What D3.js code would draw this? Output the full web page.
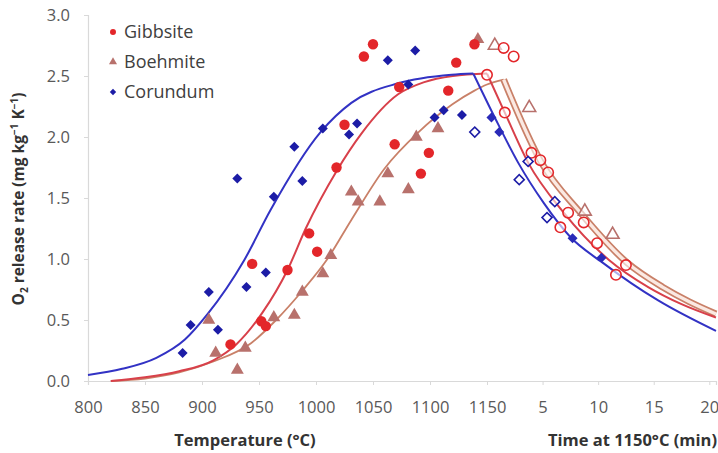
<!DOCTYPE html>
<html>
<head>
<meta charset="utf-8">
<script src="https://cdn.jsdelivr.net/npm/d3@7"></script>
<style>
  html, body { margin: 0; padding: 0; background: #fff; }
  svg { display: block; }
  text { font-family: "Open Sans", Lato, sans-serif; }
</style>
</head>
<body>
<div id="chart"></div>
<script>
// ---------------- data ----------------
const tempTicks = [800, 850, 900, 950, 1000, 1050, 1100, 1150];   // °C
const timeTicks = [5, 10, 15, 20];                                  // min at 1150 °C
const yTicks = [0.0, 0.5, 1.0, 1.5, 2.0, 2.5, 3.0];

const seriesNames = ["Gibbsite", "Boehmite", "Corundum"];

// measured points during heating: [temperature °C, O2 release rate]
const gibbsiteTemp = [[925,0.30],[944,0.96],[952,0.49],[956,0.45],[975,0.91],[994,1.21],[1001,1.06],[1018,1.75],[1025,2.10],[1042,2.66],[1050,2.76],[1069,1.94],[1073,2.41],[1092,1.70],[1099,1.87],[1116,2.38],[1123,2.61],[1139,2.76]];
const boehmiteTemp = [[906,0.50],[912,0.23],[931,0.09],[938,0.27],[963,0.52],[981,0.54],[988,0.73],[1006,0.88],[1013,1.03],[1031,1.55],[1037,1.47],[1056,1.47],[1063,1.70],[1081,1.57],[1088,2.00],[1107,2.07],[1142,2.80]];
const corundumTemp = [[883,0.23],[890,0.46],[906,0.73],[914,0.42],[931,1.66],[939,0.77],[956,0.89],[963,1.51],[981,1.92],[988,1.64],[1006,2.07],[1029,2.02],[1036,2.11],[1063,2.63],[1081,2.43],[1087,2.71],[1104,2.16],[1112,2.22],[1128,2.18]];

// measured points during the isothermal hold: [time min, O2 release rate]
const gibbsiteTime = [[0.0,2.51],[1.5,2.73],[2.4,2.66],[1.6,2.20],[4.0,1.87],[4.8,1.81],[5.5,1.71],[6.6,1.26],[7.3,1.38],[8.7,1.30],[9.9,1.13],[11.6,0.87],[12.5,0.95]];
const boehmiteTime = [[0.7,2.75],[3.8,2.24],[8.8,1.39],[11.3,1.20]];
const corundumTimeOpen = [[-1.1,2.04],[2.9,1.65],[3.7,1.80],[5.4,1.34],[6.1,1.47]];
const corundumTimeFilled = [[0.4,2.16],[1.1,2.04],[7.7,1.17],[10.3,1.01]];

// model fits: heating part [T, rate] and hold part [t, rate]
const gibbsiteFitTemp = [[820,0.00],[850,0.03],[880,0.08],[910,0.17],[930,0.30],[953,0.56],[975,0.91],[991,1.25],[1018,1.72],[1040,2.03],[1072,2.35],[1095,2.45],[1120,2.50],[1150,2.52]];
const gibbsiteFitTime = [[1.6,2.20],[3.7,1.79],[6.9,1.38],[11.0,0.99],[14.5,0.77],[17.5,0.63],[20.6,0.52]];
const boehmiteFitTemp = [[820,0.00],[850,0.02],[880,0.07],[910,0.16],[943,0.31],[965,0.50],[988,0.74],[1010,1.00],[1031,1.32],[1060,1.74],[1090,2.04],[1120,2.27],[1139,2.38],[1150,2.43]];
const boehmiteFitTime = [[1.5,2.47],[4.9,1.79],[8.4,1.38],[12.6,0.97],[15.8,0.77],[18.2,0.65],[20.6,0.55]];
const corundumFitTemp = [[800,0.05],[830,0.10],[860,0.19],[885,0.34],[905,0.55],[937,0.99],[960,1.40],[1004,2.04],[1031,2.28],[1072,2.44],[1119,2.51],[1138,2.52]];
const corundumFitTime = [[0.7,2.16],[2.8,1.79],[5.1,1.46],[7.5,1.18],[10.4,0.97],[13.0,0.80],[15.4,0.66],[20.6,0.41]];

// ---------------- chart ----------------
const W = 718, H = 453;
const HOLD_T = 1150, MIN_TO_UNITS = 9.75; // axis units per minute of hold
const toAxis = t => HOLD_T + MIN_TO_UNITS * t;

const svg = d3.select("#chart").append("svg").attr("width", W).attr("height", H);

const x = d3.scaleLinear().domain([800, 1150]).range([88, 487]);
x.domain([800, x.invert(716)]).range([88, 716]);
const y = d3.scaleLinear().domain([0, 3]).range([381, 15]);

const colors = {
  gib: "#e3262a", gibLine: "#d8404a",
  boe: "#b8716c", boeLine: "#c98068",
  cor: "#1c1ca6", corLine: "#3232c4"
};

// axes
const axisColor = "#d9d9d9";
const xTickVals = tempTicks.concat(timeTicks.map(toAxis));
const timeLabel = new Map(timeTicks.map(t => [toAxis(t), String(t)]));
const xAxis = d3.axisBottom(x).tickValues(xTickVals).tickSize(4).tickPadding(16)
  .tickFormat(v => timeLabel.has(v) ? timeLabel.get(v) : String(v));
const gx = svg.append("g").attr("transform", `translate(0,${y(0)})`).call(xAxis);
gx.select(".domain").attr("stroke", axisColor).attr("stroke-width", 1.2);
gx.selectAll(".tick line").attr("stroke", axisColor);
gx.selectAll(".tick text").attr("fill", "#595959").style("font-size", "16.5px").style("font-family", "Open Sans");

const yAxis = d3.axisLeft(y).tickValues(yTicks).tickSize(4).tickPadding(14).tickFormat(d3.format(".1f"));
const gy = svg.append("g").attr("transform", `translate(${x(800)},0)`).call(yAxis);
gy.select(".domain").attr("stroke", axisColor).attr("stroke-width", 1.2);
gy.selectAll(".tick line").attr("stroke", axisColor);
gy.selectAll(".tick text").attr("fill", "#595959").style("font-size", "16.5px").style("font-family", "Open Sans");

// axis titles
svg.append("text").attr("x", 245).attr("y", 446).attr("text-anchor", "middle")
  .style("font-size", "16.5px").style("font-weight", "bold").attr("fill", "#333").text("Temperature (°C)");
svg.append("text").attr("x", 717).attr("y", 446).attr("text-anchor", "end")
  .style("font-size", "16.5px").style("font-weight", "bold").attr("fill", "#333").text("Time at 1150°C (min)");
const yt = svg.append("text").attr("transform", "translate(24,199) rotate(-90)").attr("text-anchor", "middle")
  .style("font-size", "15.5px").style("font-weight", "bold").attr("fill", "#333");
yt.append("tspan").text("O");
yt.append("tspan").attr("dy", 4).style("font-size", "10px").text("2");
yt.append("tspan").attr("dy", -4).text(" release rate (mg kg");
yt.append("tspan").attr("dy", -6).style("font-size", "10px").text("−1");
yt.append("tspan").attr("dy", 6).text(" K");
yt.append("tspan").attr("dy", -6).style("font-size", "10px").text("−1");
yt.append("tspan").attr("dy", 6).text(")");

// fit lines: rise to the peak, then decay, each smooth, with a sharp kink at the peak
function fitPoints(tempArr, timeArr) {
  return tempArr.map(d => [d[0], d[1]]).concat(timeArr.map(d => [toAxis(d[0]), d[1]]));
}
const line = d3.line().x(d => x(d[0])).y(d => y(d[1])).curve(d3.curveMonotoneX);
function drawFit(pts, color, width, bandDecay) {
  const iMax = d3.maxIndex(pts, d => d[1]);
  const rise = pts.slice(0, iMax + 1), decay = pts.slice(iMax);
  svg.append("path").attr("d", line(rise)).attr("fill", "none").attr("stroke", color).attr("stroke-width", width);
  if (bandDecay) {
    svg.append("path").attr("d", line(decay)).attr("fill", "none").attr("stroke", color).attr("stroke-width", width + 5);
    svg.append("path").attr("d", line(decay)).attr("fill", "none").attr("stroke", "#fbe9e2").attr("stroke-width", width + 1.5);
  } else {
    svg.append("path").attr("d", line(decay)).attr("fill", "none").attr("stroke", color).attr("stroke-width", width);
  }
}
drawFit(fitPoints(boehmiteFitTemp, boehmiteFitTime), colors.boeLine, 1.8, true);
drawFit(fitPoints(gibbsiteFitTemp, gibbsiteFitTime), colors.gibLine, 2);
drawFit(fitPoints(corundumFitTemp, corundumFitTime), colors.corLine, 2);

// markers
const sym = {
  circle: d3.symbol().type(d3.symbolCircle).size(85)(),
  triangle: d3.symbol().type(d3.symbolTriangle).size(72)(),
  diamond: d3.symbol().type(d3.symbolSquare).size(50)()
};
function drawPts(arr, isTime, shape, color, open) {
  svg.append("g").selectAll("path").data(arr).join("path")
    .attr("d", sym[shape])
    .attr("transform", d => `translate(${x(isTime ? toAxis(d[0]) : d[0])},${y(d[1])})` + (shape === "diamond" ? " rotate(45)" : ""))
    .attr("fill", open ? "#fff" : color)
    .attr("fill-opacity", open ? 0.6 : 1)
    .attr("stroke", color)
    .attr("stroke-width", open ? 1.6 : 0);
}
drawPts(boehmiteTemp, false, "triangle", colors.boe, false);
drawPts(gibbsiteTemp, false, "circle", colors.gib, false);
drawPts(corundumTemp, false, "diamond", colors.cor, false);
drawPts(boehmiteTime, true, "triangle", colors.boe, true);
drawPts(gibbsiteTime, true, "circle", colors.gib, true);
drawPts(corundumTimeOpen, true, "diamond", colors.cor, true);
drawPts(corundumTimeFilled, true, "diamond", "#2a2ab8", false);

// legend
const legendColors = [colors.gib, colors.boe, colors.cor];
const legendShapes = [d3.symbolCircle, d3.symbolTriangle, d3.symbolSquare];
const lg = svg.append("g");
seriesNames.forEach((name, i) => {
  const yy = 32 + i * 30;
  lg.append("path").attr("d", d3.symbol().type(legendShapes[i]).size(i === 2 ? 20 : 28)())
    .attr("transform", `translate(113,${yy})` + (i === 2 ? " rotate(45)" : "")).attr("fill", legendColors[i]);
  lg.append("text").attr("x", 124).attr("y", yy).attr("dy", "0.36em")
    .style("font-size", "18px").attr("fill", "#404040").text(name);
});
</script>
</body>
</html>
